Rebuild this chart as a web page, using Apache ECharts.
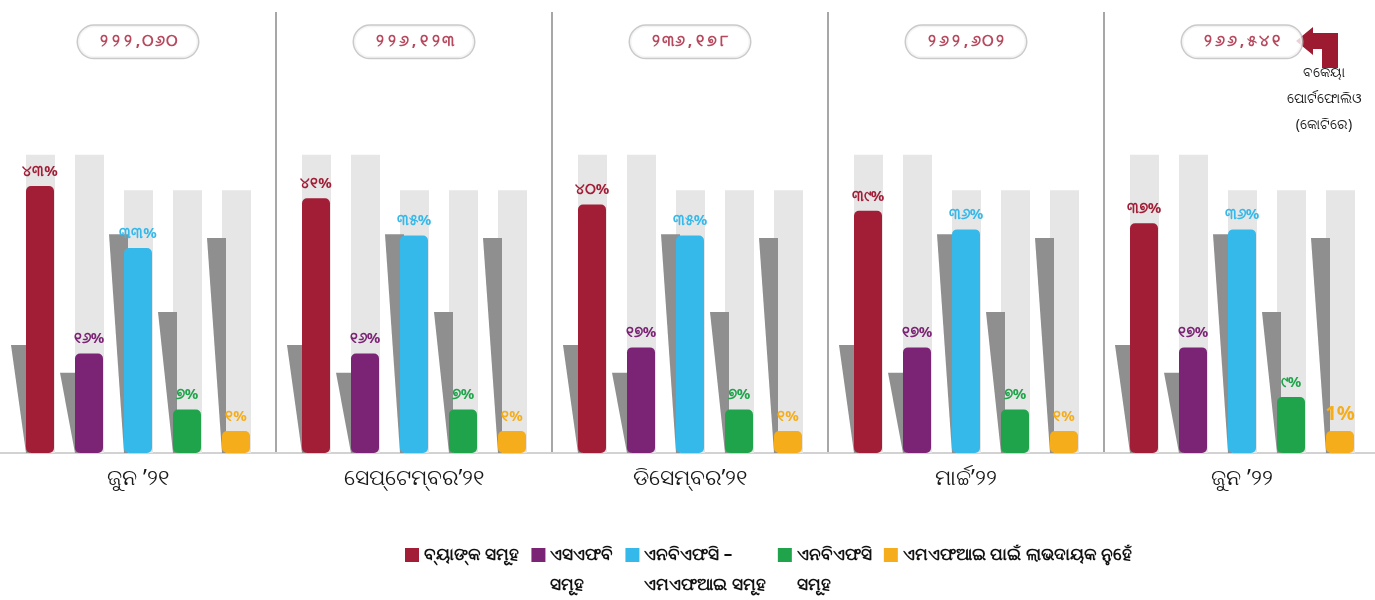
<!DOCTYPE html>
<html>
<head>
<meta charset="utf-8">
<script src="https://cdn.jsdelivr.net/npm/echarts@6/dist/echarts.min.js"></script>
<style>
  html, body { margin: 0; padding: 0; background: #fff; }
  #chart { width: 1375px; height: 600px; }
</style>
</head>
<body>
<div id="chart"></div>
<script>
// ଅବଧି (x ଅକ୍ଷ)
const periods = ['ଜୁନ ’୨୧', 'ସେପ୍ଟେମ୍ବର’୨୧', 'ଡିସେମ୍ବର’୨୧', 'ମାର୍ଚ୍ଚ’୨୨', 'ଜୁନ ’୨୨']
// ବକେୟା ପୋର୍ଟଫୋଲିଓ (କୋଟିରେ)
const portfolioTotals = [222060, 226123, 236178, 262602, 266541]
// ଅଂଶ (%)
const bankShare = [43, 41, 40, 39, 37]
const sfbShare = [16, 16, 17, 17, 17]
const nbfcMfiShare = [33, 35, 35, 36, 36]
const nbfcShare = [7, 7, 7, 7, 9]
const nfpShare = [1, 1, 1, 1, 1]
// decorative backdrop columns and grey wedges, one level per bar slot (axis units)
const backdropLevels = [48, 48, 42.3, 42.3, 42.3]
const wedgeLevels = [17.4, 12.9, 35.2, 22.7, 34.6]

const seriesNames = ['ବ୍ୟାଙ୍କ ସମୂହ', 'ଏସଏଫବି ସମୂହ', 'ଏନବିଏଫସି – ଏମଏଫଆଇ ସମୂହ', 'ଏନବିଏଫସି ସମୂହ', 'ଏମଏଫଆଇ ପାଇଁ ଲାଭଦାୟକ ନୁହେଁ']
const legendText = ['ବ୍ୟାଙ୍କ ସମୂହ', 'ଏସଏଫବି\nସମୂହ', 'ଏନବିଏଫସି –\nଏମଏଫଆଇ ସମୂହ', 'ଏନବିଏଫସି\nସମୂହ', 'ଏମଏଫଆଇ ପାଇଁ ଲାଭଦାୟକ ନୁହେଁ']
const colors = ['#a21e37', '#7b2374', '#35b9ea', '#1fa44b', '#f5ad1b']
const shares = [bankShare, sfbShare, nbfcMfiShare, nbfcShare, nfpShare]

const FONT = '"Noto Sans", "DejaVu Sans", sans-serif'
const odiaDigits = '୦୧୨୩୪୫୬୭୮୯'
const toOdia = s => String(s).replace(/\d/g, d => odiaDigits[d])

const BAR_W = 28
const BAR_STEP = 49

let chart = echarts.init(document.getElementById('chart'))

let barSeries = shares.map((arr, k) => ({
  name: seriesNames[k],
  type: 'bar',
  data: arr,
  barWidth: BAR_W,
  barGap: '75%',
  barMinHeight: 22,
  z: 3,
  itemStyle: { color: colors[k], borderRadius: 5 },
  label: {
    show: true,
    position: 'top',
    distance: 7,
    color: colors[k],
    fontFamily: FONT,
    fontWeight: 'bold',
    fontSize: 15,
    // last amber label is printed with latin digits in the source
    formatter: p => (k === 4 && p.dataIndex === 4) ? '{big|1%}' : toOdia(p.value) + '%',
    rich: { big: { fontSize: 20, fontWeight: 'bold', color: colors[k], fontFamily: FONT } }
  }
}))

let decoSeries = {
  type: 'custom',
  z: 1,
  silent: true,
  data: periods.map((_, i) => [i, 0]),
  renderItem: (params, api) => {
    let base = api.coord([api.value(0), 0])
    let start = base[0] - (5 * BAR_W + 4 * (BAR_STEP - BAR_W)) / 2
    let children = []
    for (let k = 0; k < 5; k++) {
      let left = start + k * BAR_STEP
      let bgTop = api.coord([api.value(0), backdropLevels[k]])[1]
      children.push({
        type: 'rect',
        shape: { x: left, y: bgTop, width: BAR_W + 1, height: base[1] - bgTop },
        style: { fill: '#e6e6e6' }
      })
    }
    for (let k = 0; k < 5; k++) {
      let left = start + k * BAR_STEP
      let wTop = api.coord([api.value(0), wedgeLevels[k]])[1]
      children.push({
        type: 'polygon',
        shape: { points: [[left - 15, wTop], [left + 4, wTop], [left + 4, base[1]], [left, base[1]]] },
        style: { fill: '#8f8f8f' }
      })
    }
    return { type: 'group', children: children }
  }
}

// spread the digits of the total like the printed pills
const spaced = s => s.split('').map(ch => ch === ',' ? '{c|,}' : '{d|' + ch + '}').join('')

let pillSeries = {
  type: 'scatter',
  symbolSize: 0,
  z: 4,
  silent: true,
  data: periods.map((_, i) => [i, 66.2]),
  label: {
    show: true,
    position: 'inside',
    formatter: p => spaced(toOdia(portfolioTotals[p.dataIndex].toLocaleString('en-US'))),
    backgroundColor: '#fff',
    borderColor: '#bdbdbd',
    borderWidth: 1.5,
    borderRadius: 18,
    padding: [8, 20],
    rich: {
      d: { width: 12, align: 'center', color: '#a51c36', fontFamily: FONT, fontWeight: 'bold', fontSize: 16 },
      c: { width: 8, align: 'center', color: '#a51c36', fontFamily: FONT, fontWeight: 'bold', fontSize: 16 }
    }
  }
}

let option = {
  animation: false,
  grid: { left: 0, right: -5, top: 12, bottom: 147, outerBoundsMode: 'none' },
  legend: {
    left: 400,
    top: 505,
    itemWidth: 14,
    itemHeight: 14,
    itemGap: 12,
    icon: 'rect',
    data: seriesNames,
    // a blank first line keeps the first text line level with the swatch
    formatter: n => {
      let t = legendText[seriesNames.indexOf(n)]
      return t.includes('\n') ? '\n' + t : t
    },
    textStyle: { color: '#111', fontFamily: FONT, fontSize: 17, fontWeight: 'bold', lineHeight: 30 }
  },
  xAxis: {
    type: 'category',
    data: periods,
    axisTick: { show: false },
    axisLine: { lineStyle: { color: '#d2d2d2', width: 2 } },
    axisLabel: { color: '#1a1a1a', fontFamily: FONT, fontSize: 22, margin: 15 },
    splitLine: { show: true, showMinLine: false, showMaxLine: false, lineStyle: { color: '#8a8a8a', width: 1.5 } }
  },
  yAxis: { type: 'value', min: 0, max: 71, show: false },
  graphic: [
    {
      type: 'polygon',
      shape: { points: [[1296, 41], [1313, 27], [1313, 33], [1338, 33], [1338, 68], [1322, 68], [1322, 49], [1313, 49], [1313, 55]] },
      style: { fill: '#9c1b31' }
    },
    {
      type: 'text',
      style: {
        text: 'ବକେୟା\nପୋର୍ଟଫୋଲିଓ\n(କୋଟିରେ)',
        x: 1324, y: 60, align: 'center', verticalAlign: 'top',
        lineHeight: 26, font: '14px "Noto Sans", sans-serif', fill: '#1a1a1a'
      }
    }
  ],
  series: [decoSeries, ...barSeries, pillSeries]
}

chart.setOption(option)
</script>
</body>
</html>
